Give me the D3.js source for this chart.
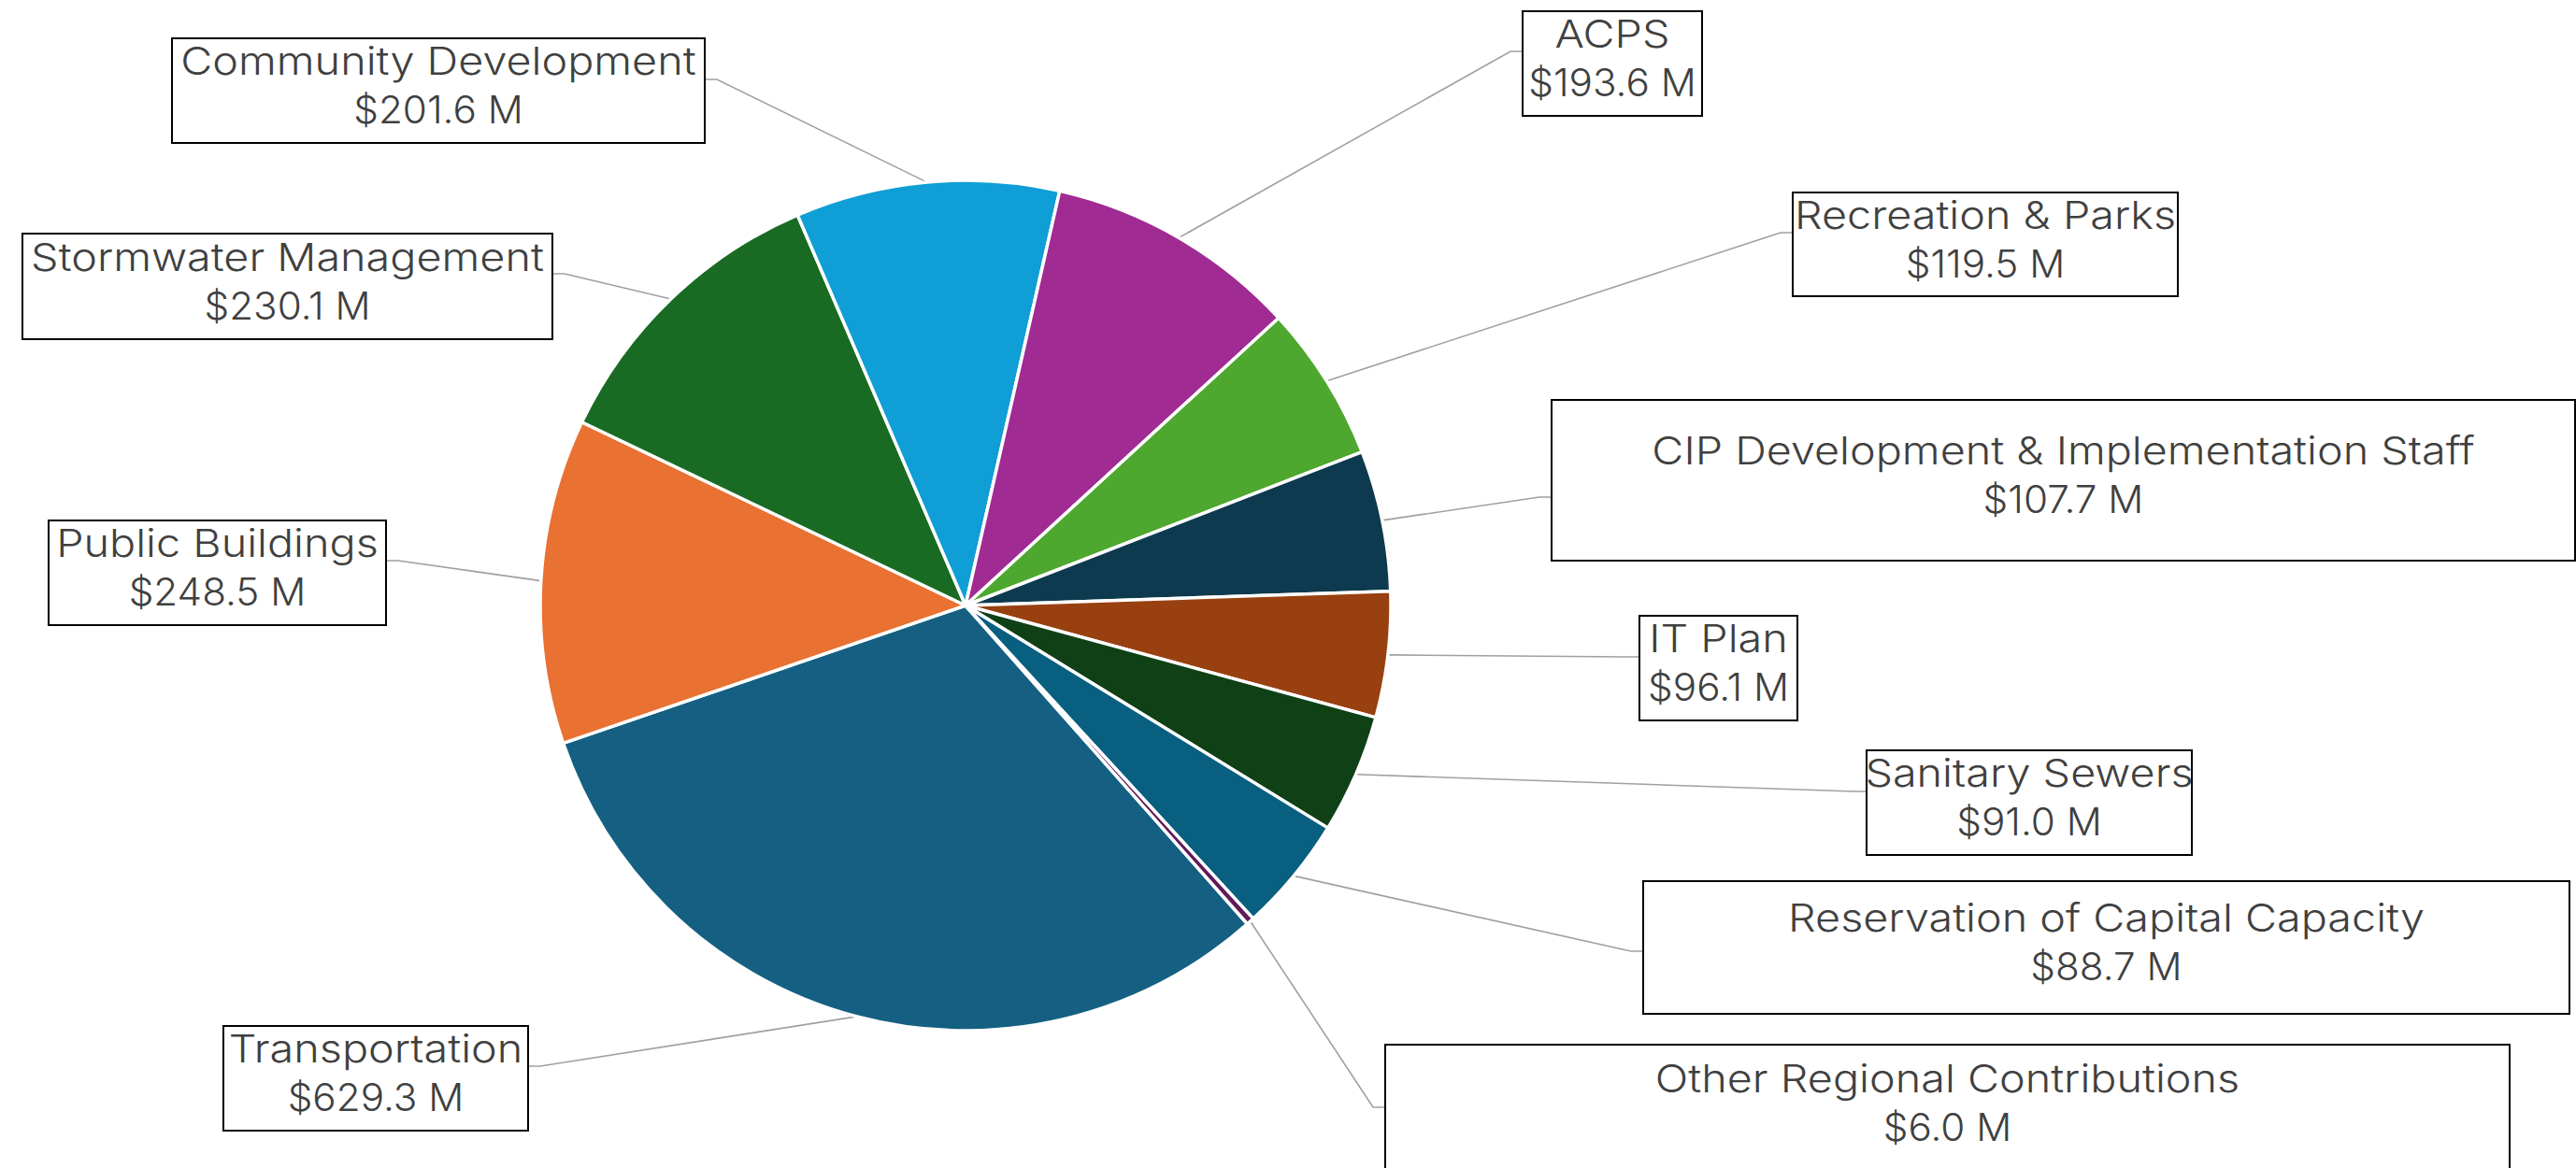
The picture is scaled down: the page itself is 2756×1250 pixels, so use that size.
<!DOCTYPE html>
<html>
<head>
<meta charset="utf-8">
<script src="https://cdn.jsdelivr.net/npm/d3@7"></script>
<style>
  body { margin: 0; background: #fff; }
  svg { display: block; }
  .box-label {
    font-family: Inter, 'Open Sans', sans-serif;
    font-weight: 300;
    font-size: 41px;
    fill: #404040;
  }
</style>
</head>
<body>
<svg width="2756" height="1250"></svg>
<script>
// slices in the order they run clockwise, values in millions
const categories = [
  'Transportation',
  'Public Buildings',
  'Stormwater Management',
  'Community Development',
  'ACPS',
  'Recreation & Parks',
  'CIP Development & Implementation Staff',
  'IT Plan',
  'Sanitary Sewers',
  'Reservation of Capital Capacity',
  'Other Regional Contributions'
];
const values = [629.3, 248.5, 230.1, 201.6, 193.6, 119.5, 107.7, 96.1, 91.0, 88.7, 6.0];

// office theme accents; slices 7-11 reuse them darker
const accents = ['#156082', '#E97132', '#196B24', '#0F9ED5', '#A02B93', '#4EA72E'];

// label boxes, same order as categories: x, y, w, h and the y where the leader meets the box
const labelBoxes = [
  {x: 239, y: 1098, w: 326, h: 112, ay: 1141},
  {x: 52, y: 557, w: 361, h: 112, ay: 600},
  {x: 24, y: 250, w: 567, h: 113, ay: 293},
  {x: 184, y: 41, w: 570, h: 112, ay: 85},
  {x: 1629, y: 12, w: 192, h: 112, ay: 55},
  {x: 1918, y: 206, w: 412, h: 111, ay: 249},
  {x: 1660, y: 428, w: 1095, h: 172, ay: 532},
  {x: 1754, y: 659, w: 169, h: 112, ay: 703},
  {x: 1997, y: 803, w: 348, h: 112, ay: 847},
  {x: 1758, y: 943, w: 991, h: 142, ay: 1018},
  {x: 1482, y: 1118, w: 1203, h: 135, ay: 1185}
];

const svg = d3.select('svg');
const width = +svg.attr('width');
const height = +svg.attr('height');

const render = () => {
  const cx = 1033;
  const cy = 648;
  const radius = 455;
  const firstAngle = 138.5 * Math.PI / 180;
  const elbow = 13;
  // the original face is wider than what we have installed (digits less so)
  const nameStretch = 1.14;
  const valueStretch = 1.03;

  const data = categories.map((name, i) => ({name, value: values[i], box: labelBoxes[i], i}));

  const colorOf = i => {
    if (i < accents.length) return accents[i];
    const c = d3.hsl(accents[i - accents.length]);
    c.l *= 0.6;
    return c.formatHex();
  };

  const pie = d3.pie()
    .value(d => d.value)
    .sort(null)
    .startAngle(firstAngle)
    .endAngle(firstAngle + 2 * Math.PI);

  const arcs = pie(data);

  const arc = d3.arc().innerRadius(0).outerRadius(radius);
  const edgeArc = d3.arc().innerRadius(radius).outerRadius(radius);

  const g = svg.append('g')
    .attr('transform', `translate(${cx}, ${cy})`);

  // leader lines: slice edge -> short horizontal stub -> box side
  const line = d3.line();
  g.selectAll('.leader').data(arcs)
    .enter().append('path')
      .attr('class', 'leader')
      .attr('fill', 'none')
      .attr('stroke', '#A0A0A0')
      .attr('stroke-width', 1.6)
      .attr('d', d => {
        const b = d.data.box;
        const start = edgeArc.centroid(d);
        const rightSide = b.x > cx;
        const side = (rightSide ? b.x : b.x + b.w) - cx;
        const knee = side + (rightSide ? -elbow : elbow);
        return line([start, [knee, b.ay - cy], [side, b.ay - cy]]);
      });

  g.selectAll('.slice').data(arcs)
    .enter().append('path')
      .attr('class', 'slice')
      .attr('fill', d => colorOf(d.data.i))
      .attr('stroke', '#fff')
      .attr('stroke-width', 3.5)
      .attr('stroke-linejoin', 'round')
      .attr('d', arc);

  const labels = svg.selectAll('.label').data(data)
    .enter().append('g')
      .attr('class', 'label')
      .attr('transform', d => `translate(${d.box.x}, ${d.box.y})`);

  labels.append('rect')
    .attr('width', d => d.box.w)
    .attr('height', d => d.box.h)
    .attr('fill', '#fff')
    .attr('stroke', '#000')
    .attr('stroke-width', 2);

  const text = labels.append('text')
    .attr('class', 'box-label')
    .attr('text-anchor', 'middle');

  text.append('tspan')
    .attr('class', 'name')
    .attr('x', d => d.box.w / 2)
    .attr('y', d => d.box.h / 2 - 17)
    .text(d => d.name);

  text.append('tspan')
    .attr('class', 'amount')
    .attr('x', d => d.box.w / 2)
    .attr('y', d => d.box.h / 2 + 35)
    .text(d => `$${d.value.toFixed(1)} M`);

  text.selectAll('tspan').each(function() {
    const k = this.classList.contains('name') ? nameStretch : valueStretch;
    const len = this.getComputedTextLength();
    d3.select(this)
      .attr('textLength', len * k)
      .attr('lengthAdjust', 'spacingAndGlyphs');
  });
};

render();
</script>
</body>
</html>
